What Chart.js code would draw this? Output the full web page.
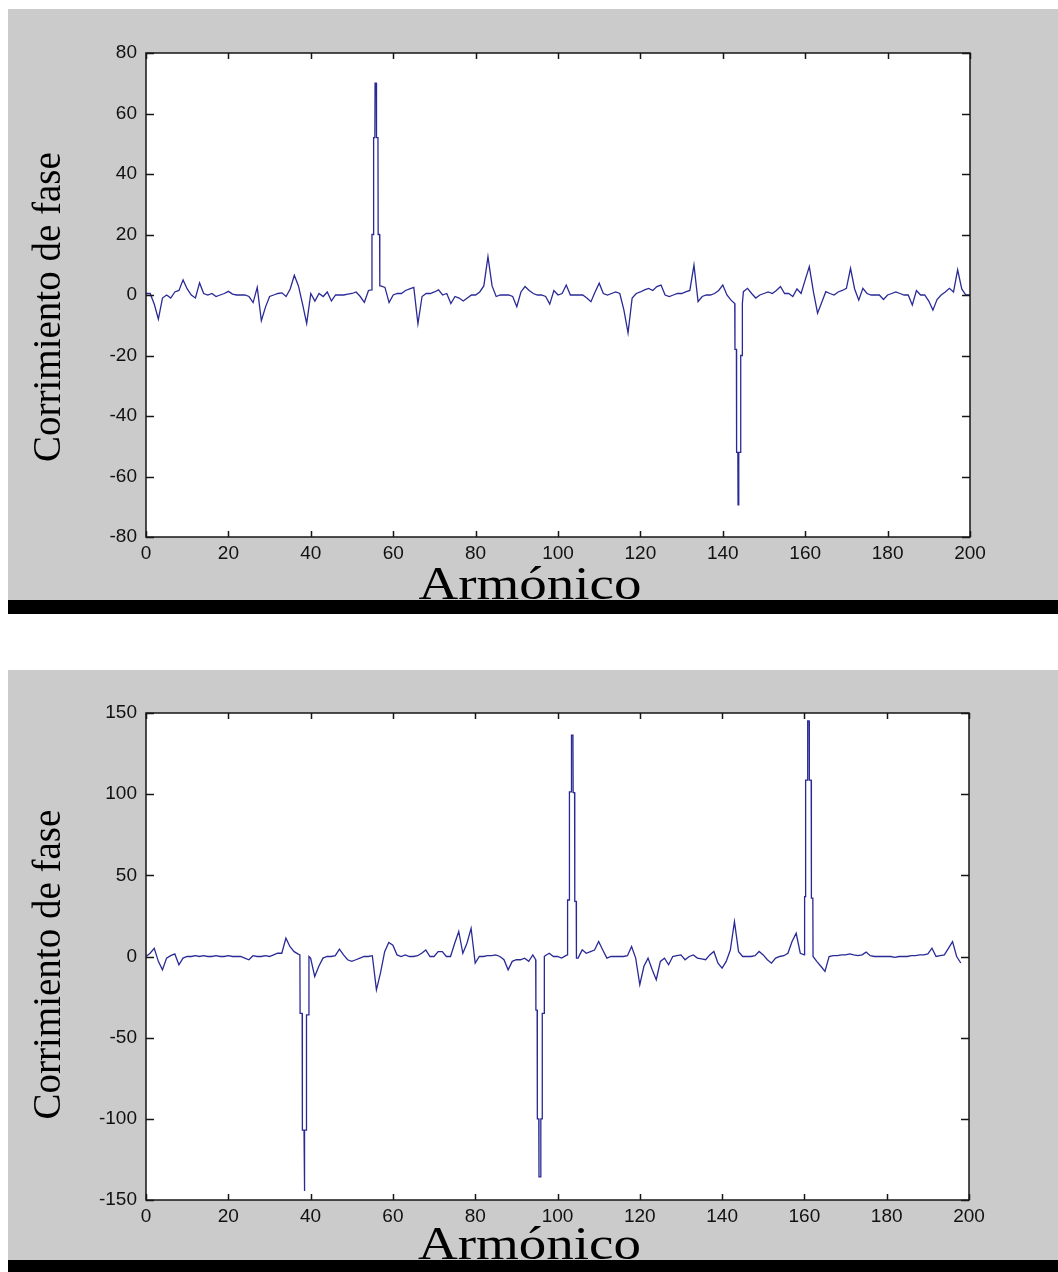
<!DOCTYPE html>
<html>
<head>
<meta charset="utf-8">
<script src="https://cdn.jsdelivr.net/npm/chart.js@4.4.1/dist/chart.umd.min.js"></script>
<style>
  html, body { margin: 0; padding: 0; background: #fff; }
  body { position: relative; width: 1058px; height: 1272px; overflow: hidden; }
  canvas { position: absolute; left: 8px; }
  #topChart { top: 9px; }
  #bottomChart { top: 670px; }
  .bar { position: absolute; left: 8px; width: 1050px; background: #000; }
</style>
</head>
<body>
<canvas id="topChart" width="1050" height="605"></canvas>
<div class="bar" style="top:600px;height:14px"></div>
<canvas id="bottomChart" width="1050" height="602"></canvas>
<div class="bar" style="top:1260px;height:12px"></div>
<script>
// harmonic index (x categories)
const harmonics = Array.from({ length: 201 }, (_, i) => i);

// top plot: phase shift per harmonic (null where the spike detail below takes over)
const phaseTop = [
  0.5, 0.5, -3, -8, -1, 0, -1, 1, 1.5, 5,
  2, 0, -1, 4, 0.5, 0, 0.5, -0.5, 0, 0.5,
  1.2, 0.3, 0, 0, 0, -0.5, -2.5, 2.5, -8.5, -4,
  -0.5, 0, 0.5, 0.7, -0.5, 2, 6.5, 3, -3, -9.4,
  0.5, -2, 0.5, -0.5, 1, -2, 0, 0, 0, 0.3,
  0.5, 1, -0.5, -2.4, 1.5, null, null, 3, 2.5, -2.5,
  0, 0.5, 0.5, 1.5, 2, 2.5, -9.5, -0.5, 0.5, 0.5,
  1, 1.7, 0, 0.5, -2.8, -0.5, -1, -2, -1, 0,
  0, 1, 3, 12.7, 3, -0.5, 0, 0, 0, -0.5,
  -3.9, 1, 2.8, 1.5, 0.5, 0, 0, -0.5, -3, 1.5,
  0, 0.5, 3.3, 0, 0, 0, 0, -1, -2.2, 1,
  3.9, 0.5, 0, 0.5, 1, 0.5, -5, -12.5, -1, 0.5,
  1, 1.7, 2.2, 1.5, 2.8, 3.3, 0, -0.5, 0, 0.5,
  0.5, 1, 1.5, 9.9, -2.2, -0.5, 0, 0, 0.5, 1.5,
  3.3, 0, -1.7, null, null, 1.1, 2.2, 0.5, -1, 0,
  0.5, 1, 0.5, 1.5, 2.8, 0.5, 0.5, -0.5, 2, 0.5,
  5, 9.4, 1, -6, -2.5, 1.1, 0.5, 0, 1, 1.5,
  2.2, 8.8, 2, -1.7, 2.2, 0.5, 0, 0, 0, -1.5,
  0, 0.5, 1, 0.5, 0, 0, -3.3, 1.5, 0, 0,
  -2, -5, -1.5, 0, 1, 2.2, 1, 8.3, 2, 0,
  0
];
// fine detail of the two big jumps in the top plot
const spikeTopX = [
  54.8, 54.85, 55.2, 55.25, 55.55, 55.6, 55.9, 55.95, 56.3, 56.35, 56.7, 56.75,
  142.9, 142.95, 143.3, 143.35, 143.65, 143.7, 143.85, 143.9, 144.3, 144.35, 144.7, 144.75
];
const spikeTopY = [
  1.7, 20, 20, 52, 52, 70, 70, 52, 52, 20, 20, 3,
  -2.8, -18, -18, -52, -52, -69.4, -69.4, -52, -52, -20, -20, -2.8
];

// bottom plot (ends at harmonic 198)
const phaseBottom = [
  0, 2, 5, -3, -8.2, -1, 0.5, 1.6, -5.1, -1,
  0, 0, 0.5, 0, 0.5, 0, 0, 0.5, 0, 0,
  0.5, 0, 0, 0, -1, -2, 0.5, 0, 0, 0.5,
  0, 1, 2, 2, 11.3, 6, 3, 1.5, null, null,
  -1, -12.3, -6, -1, 0, 0, 0.5, 4.5, 1, -2,
  -3, -2, -1, 0, 0, 0.5, -20.5, -10, 3, 8.6,
  7, 1, 0, 1, 0, 0, 0.5, 2, 4, 0,
  0, 3, 3, 0, 0, 8, 15.4, 2, 8.2, 17.4,
  -4, 0, 0, 0.5, 0.5, 1, 0, -2, -8.2, -3,
  -2, -2, -1, -3, 1, null, null, 0.5, 2, 0,
  0, -1, 0.5, null, null, -1, 4.1, 2, 3, 4,
  9.2, 4, -1, 0, 0, 0, 0, 0.5, 6.1, -1,
  -17.4, -6, -1, -8, -14.3, -3, -1, -5.1, 0, 0.5,
  1, -2, 0, 1, -1, -1.5, -2, 1, 3.1, -4.1,
  -7.2, -3, 4, 21.5, 3, 0, 0, 0, 0.5, 3.1,
  1, -2, -4.1, -1, 0, 0.5, 2, 9.2, 14.3, 2,
  null, null, null, -3, -6, -9.2, 0, 0.5, 0.5, 1,
  1, 1.6, 1, 0.5, 1, 2.7, 0.5, 0, 0, 0,
  0, 0, -0.5, 0, 0, 0, 0.5, 0.5, 1, 1,
  1.6, 5.1, 0, 0.5, 1, 5, 9.2, 0, -4
];
const spikeBottomX = [
  37.4, 37.45, 37.95, 38.0, 38.4, 38.45, 38.55, 38.6, 38.95, 39.0, 39.55, 39.6,
  94.7, 94.75, 95.05, 95.1, 95.45, 95.5, 95.9, 95.95, 96.25, 96.3, 96.75, 96.8,
  102.4, 102.45, 102.85, 102.9, 103.35, 103.4, 103.75, 103.8, 104.15, 104.2, 104.55, 104.6,
  160.0, 160.05, 160.25, 160.3, 160.75, 160.8, 161.15, 161.2, 161.65, 161.7, 162.05, 162.1
];
const spikeBottomY = [
  1, -35, -35, -107, -107, -144.5, -144.5, -107, -107, -36, -36, 0,
  -2, -33, -33, -100, -100, -135.7, -135.7, -100, -100, -35, -35, 0,
  1, 34.8, 34.8, 101.4, 101.4, 136.3, 136.3, 101, 101, 34, 34, -1,
  1, 36.9, 36.9, 108.6, 108.6, 145.1, 145.1, 108.6, 108.6, 36, 36, 0
];

const xTicks = [0, 20, 40, 60, 80, 100, 120, 140, 160, 180, 200];
const yTicksTop = [-80, -60, -40, -20, 0, 20, 40, 60, 80];
const yTicksBottom = [-150, -100, -50, 0, 50, 100, 150];

const xTitle = 'Armónico';
const yTitle = 'Corrimiento de fase';

function buildPoints(values, spikeX, spikeY) {
  const pts = [];
  values.forEach((v, i) => {
    if (v !== null) pts.push({ x: harmonics[i], y: v });
  });
  spikeX.forEach((x, i) => pts.push({ x: x, y: spikeY[i] }));
  return pts.sort((a, b) => a.x - b.x);
}

// matlab-like look: grey figure, white axes, box with inward ticks, serif labels
const matlabAxes = {
  id: 'matlabAxes',
  beforeDraw(chart) {
    const { ctx, chartArea: a } = chart;
    ctx.save();
    ctx.fillStyle = '#cbcbcb';
    ctx.fillRect(0, 0, chart.width, chart.height);
    ctx.fillStyle = '#ffffff';
    ctx.fillRect(a.left, a.top, a.right - a.left, a.bottom - a.top);
    ctx.restore();
  },
  afterDatasetsDraw(chart) {
    const { ctx, chartArea: a, scales } = chart;
    ctx.save();
    ctx.strokeStyle = '#161616';
    ctx.lineWidth = 1.5;
    ctx.strokeRect(a.left, a.top, a.right - a.left, a.bottom - a.top);
    ctx.beginPath();
    scales.x.ticks.forEach(t => {
      const px = Math.round(scales.x.getPixelForValue(t.value)) + 0.5;
      ctx.moveTo(px, a.bottom); ctx.lineTo(px, a.bottom - 6);
      ctx.moveTo(px, a.top); ctx.lineTo(px, a.top + 6);
    });
    scales.y.ticks.forEach(t => {
      const py = Math.round(scales.y.getPixelForValue(t.value)) + 0.5;
      ctx.moveTo(a.left, py); ctx.lineTo(a.left + 8, py);
      ctx.moveTo(a.right, py); ctx.lineTo(a.right - 8, py);
    });
    ctx.stroke();
    ctx.restore();
  },
  afterDraw(chart, args, opts) {
    const { ctx, chartArea: a, scales } = chart;
    ctx.save();
    ctx.fillStyle = '#000';
    ctx.textAlign = 'center';
    ctx.textBaseline = 'alphabetic';
    // x title
    ctx.font = '47px "Liberation Serif", "Times New Roman", serif';
    ctx.translate(scales.x.getPixelForValue(opts.xCenter), a.bottom + opts.xGap);
    ctx.scale(1.17, 1);
    ctx.fillText(opts.xText, 0, 0);
    ctx.restore();
    // y title
    ctx.save();
    ctx.fillStyle = '#000';
    ctx.textAlign = 'center';
    ctx.textBaseline = 'alphabetic';
    ctx.font = '39px "Liberation Serif", "Times New Roman", serif';
    ctx.translate(a.left - 86, scales.y.getPixelForValue(opts.yCenter));
    ctx.rotate(-Math.PI / 2);
    ctx.fillText(opts.yText, 0, 0);
    ctx.restore();
  }
};

function makeChart(id, points, yTicks, cfg) {
  const tickFont = { family: '"Liberation Sans", Arial, sans-serif', size: 19 };
  return new Chart(document.getElementById(id), {
    type: 'line',
    data: {
      datasets: [{
        data: points,
        borderColor: '#2a2a96',
        borderWidth: 1.3,
        pointRadius: 0,
        tension: 0,
        fill: false
      }]
    },
    options: {
      responsive: false,
      animation: false,
      layout: { padding: { top: cfg.top, right: cfg.right, bottom: 0, left: 0 } },
      scales: {
        x: {
          type: 'linear',
          min: xTicks[0],
          max: xTicks[xTicks.length - 1],
          afterBuildTicks: s => { s.ticks = xTicks.map(v => ({ value: v })); },
          afterFit: s => { s.height = cfg.xHeight; },
          ticks: { color: '#111', font: tickFont, padding: 5, maxRotation: 0, autoSkip: false },
          grid: { display: false, drawTicks: false },
          border: { display: false }
        },
        y: {
          type: 'linear',
          min: yTicks[0],
          max: yTicks[yTicks.length - 1],
          afterBuildTicks: s => { s.ticks = yTicks.map(v => ({ value: v })); },
          afterFit: s => { s.width = 138; },
          ticks: { color: '#111', font: tickFont, padding: 9, autoSkip: false },
          grid: { display: false, drawTicks: false },
          border: { display: false }
        }
      },
      plugins: {
        legend: { display: false },
        tooltip: { enabled: false },
        matlabAxes: {
          xText: xTitle, yText: yTitle,
          xCenter: 93.2, yCenter: cfg.yCenter, xGap: cfg.xGap
        }
      }
    },
    plugins: [matlabAxes]
  });
}

makeChart('topChart', buildPoints(phaseTop, spikeTopX, spikeTopY), yTicksTop,
  { top: 44, right: 88, xHeight: 77, yCenter: -4, xGap: 62 });
makeChart('bottomChart', buildPoints(phaseBottom, spikeBottomX, spikeBottomY), yTicksBottom,
  { top: 43, right: 89, xHeight: 72, yCenter: -5, xGap: 59 });
</script>
</body>
</html>
